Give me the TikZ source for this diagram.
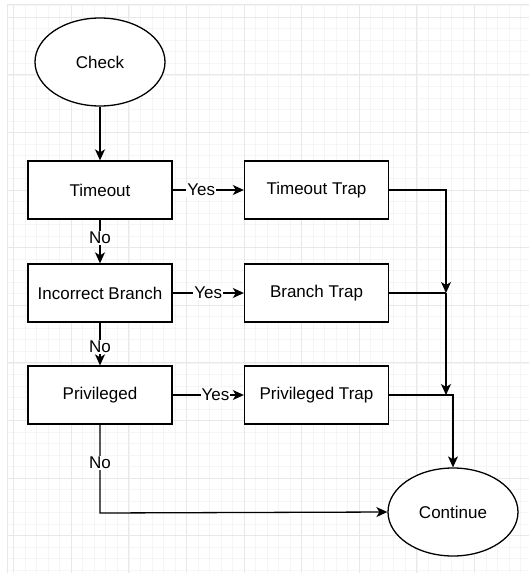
\documentclass[tikz,border=0pt]{standalone}
\usepackage{fontspec}
\setmainfont{Liberation Sans}
\usetikzlibrary{arrows.meta,shapes.geometric}
\begin{document}
\begin{tikzpicture}[x=1pt,y=-1pt,
  gridminor/.style={draw=black!4,line width=0.6pt},
  gridmajor/.style={draw=black!9,line width=0.7pt},
  box/.style={draw,line width=1.3pt,fill=white,minimum width=144pt,minimum height=58pt,inner sep=0pt,font=\fontsize{17}{20}\selectfont},
  oval/.style={draw,line width=1.3pt,fill=white,ellipse,minimum width=130pt,minimum height=88pt,inner sep=0pt,font=\fontsize{17}{20}\selectfont},
  conn/.style={line width=1.3pt},
  arr/.style={conn,-{Stealth[length=11pt,width=10pt,inset=3pt]}},
  lbl/.style={fill=white,inner sep=1pt,font=\fontsize{17}{20}\selectfont}]
\useasboundingbox (0,0) rectangle (529,573);
\fill[white] (0,0) rectangle (529,573);
% grid
\foreach \i in {1,...,45} \draw[gridminor] ({2.08+11.52*\i},4) -- ({2.08+11.52*\i},573);
\foreach \i in {0,...,49} \draw[gridminor] (7,{5.68+11.52*\i}) -- (529,{5.68+11.52*\i});
\foreach \k in {0,...,8} \draw[gridmajor] ({13.6+57.6*\k},4) -- ({13.6+57.6*\k},573);
\foreach \k in {0,...,9} \draw[gridmajor] (7,{17.2+57.6*\k}) -- (529,{17.2+57.6*\k});
\draw[gridmajor] (7,4) -- (7,573);
\draw[gridmajor] (7,4) -- (529,4);
% nodes
\node[oval] (check) at (100,62) {Check};
\node[box] (timeout) at (100,190) {Timeout};
\node[box] (ttrap) at (316.5,190) {Timeout Trap};
\node[box] (branch) at (100,293) {Incorrect Branch};
\node[box] (btrap) at (316.5,293) {Branch Trap};
\node[box] (priv) at (100,395) {Privileged};
\node[box] (ptrap) at (316.5,395) {Privileged Trap};
\node[oval] (cont) at (453,512) {Continue};
\coordinate (j1) at (446,293);
\coordinate (j2) at (446,395);
\coordinate (c1) at (100,513);
% connectors
\draw[arr] (check) -- (timeout);
\draw[arr] (timeout) -- node[lbl,pos=0.4]{Yes} (ttrap);
\draw[arr] (branch) -- node[lbl,pos=0.5]{Yes} (btrap);
\draw[arr] (priv) -- node[lbl,pos=0.6]{Yes} (ptrap);
\draw[arr] (timeout) -- node[lbl,pos=0.41]{No} (branch);
\draw[arr] (branch) -- node[lbl,pos=0.57]{No} (priv);
\draw[arr] (priv.south) -- node[lbl,pos=0.43]{No} (c1) -- (cont.west);
\draw[arr] (ttrap.east) -| (j1);
\draw[conn] (btrap.east) -- (j1);
\draw[arr] (j1) -- (j2);
\draw[arr] (ptrap.east) -| (cont.north);
\end{tikzpicture}
\end{document}
